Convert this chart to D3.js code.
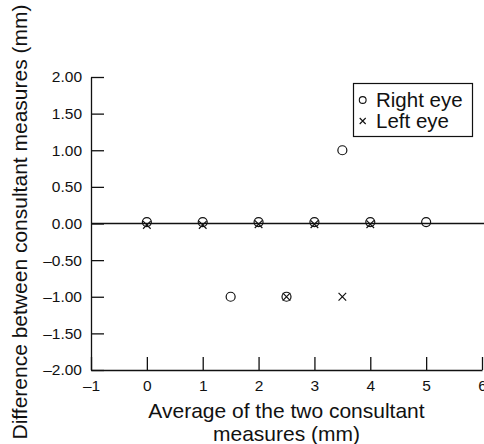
<!DOCTYPE html>
<html>
<head>
<meta charset="utf-8">
<script src="https://cdn.jsdelivr.net/npm/d3@7"></script>
<style>
  html, body { margin: 0; padding: 0; background: #fff; }
  svg { display: block; font-family: "Liberation Sans", Arial, Helvetica, sans-serif; }
</style>
</head>
<body>
<svg id="chart" width="484" height="444"></svg>
<script>
// Data
const rightX = [0, 1, 2, 3, 4, 5, 3.5, 1.5, 2.5];
const rightY = [0.02, 0.02, 0.02, 0.02, 0.02, 0.02, 1.0, -1.0, -1.0];
const leftX  = [0, 1, 2, 3, 4, 2.5, 3.5];
const leftY  = [-0.02, -0.02, -0.01, -0.01, -0.01, -1.0, -1.0];
const xTicks = [-1, 0, 1, 2, 3, 4, 5, 6];
const yTicks = [2, 1.5, 1, 0.5, 0, -0.5, -1, -1.5, -2];
const seriesNames = ["Right eye", "Left eye"];
const xTitle = ["Average of the two consultant", "measures (mm)"];
const yTitle = "Difference between consultant measures (mm)";

const svg = d3.select("#chart");
const x = d3.scaleLinear().domain([-1, 6]).range([91, 482]);
const y = d3.scaleLinear().domain([-2, 2]).range([370, 77]);
const dash = s => s.replace(/[-\u2212]/g, "\u2013");

// Y axis
const yAxis = d3.axisLeft(y).tickValues(yTicks).tickSizeInner(-13).tickSizeOuter(0).tickPadding(9)
  .tickFormat(d => dash(d3.format(".2f")(d)));
const gy = svg.append("g").attr("transform", `translate(${x(-1)},0)`).call(yAxis);
gy.selectAll("text").attr("font-size", 15.5).attr("fill", "#111").attr("font-family", "Liberation Sans, Arial, sans-serif");
gy.selectAll("line, path").attr("stroke", "#111").attr("stroke-width", 1.3);

// X axis
const xAxis = d3.axisBottom(x).tickValues(xTicks).tickSizeInner(-13).tickSizeOuter(0).tickPadding(10)
  .tickFormat(d => dash(String(d)));
const gx = svg.append("g").attr("transform", `translate(0,${y(-2)})`).call(xAxis);
gx.selectAll("text").attr("font-size", 15.5).attr("fill", "#111").attr("font-family", "Liberation Sans, Arial, sans-serif");
gx.selectAll("line, path").attr("stroke", "#111").attr("stroke-width", 1.3);
gx.select(".domain").attr("stroke-width", 1.6);

// Zero reference line
svg.append("line")
  .attr("x1", x(-1)).attr("x2", x(6) + 2)
  .attr("y1", y(0)).attr("y2", y(0))
  .attr("stroke", "#111").attr("stroke-width", 1.3);

// Right eye: circles
svg.append("g").selectAll("circle")
  .data(rightX.map((v, i) => [v, rightY[i]]))
  .join("circle")
  .attr("cx", d => x(d[0])).attr("cy", d => y(d[1]))
  .attr("r", 4.5).attr("fill", "none").attr("stroke", "#111").attr("stroke-width", 1.2);

// Left eye: crosses
const cs = 3.8;
svg.append("g").selectAll("path")
  .data(leftX.map((v, i) => [v, leftY[i]]))
  .join("path")
  .attr("d", d => {
    const cx = x(d[0]), cy = y(d[1]);
    return `M${cx - cs},${cy - cs}L${cx + cs},${cy + cs}M${cx - cs},${cy + cs}L${cx + cs},${cy - cs}`;
  })
  .attr("fill", "none").attr("stroke", "#111").attr("stroke-width", 1.2);

// Legend
const lg = svg.append("g");
lg.append("rect").attr("x", 353.5).attr("y", 83.5).attr("width", 119).attr("height", 53)
  .attr("fill", "#fff").attr("stroke", "#111").attr("stroke-width", 1.2);
lg.append("circle").attr("cx", 362.7).attr("cy", 100).attr("r", 3.4)
  .attr("fill", "none").attr("stroke", "#111").attr("stroke-width", 1.1);
const lc = 3;
lg.append("path")
  .attr("d", `M${362.7 - lc},${121 - lc}L${362.7 + lc},${121 + lc}M${362.7 - lc},${121 + lc}L${362.7 + lc},${121 - lc}`)
  .attr("stroke", "#111").attr("stroke-width", 1.1).attr("fill", "none");
lg.selectAll("text.leg").data(seriesNames).join("text")
  .attr("class", "leg")
  .attr("x", 376).attr("y", (d, i) => 106.5 + i * 21)
  .attr("font-size", 20.5).attr("fill", "#111").text(d => d);

// X title
svg.append("g").selectAll("text").data(xTitle).join("text")
  .attr("x", (x(-1) + x(6)) / 2).attr("y", (d, i) => 418 + i * 23)
  .attr("text-anchor", "middle").attr("font-size", 21).attr("fill", "#111").text(d => d);

// Y title
svg.append("text")
  .attr("transform", `translate(27,222) rotate(-90)`)
  .attr("text-anchor", "middle").attr("font-size", 21).attr("fill", "#111").text(yTitle);
</script>
</body>
</html>
